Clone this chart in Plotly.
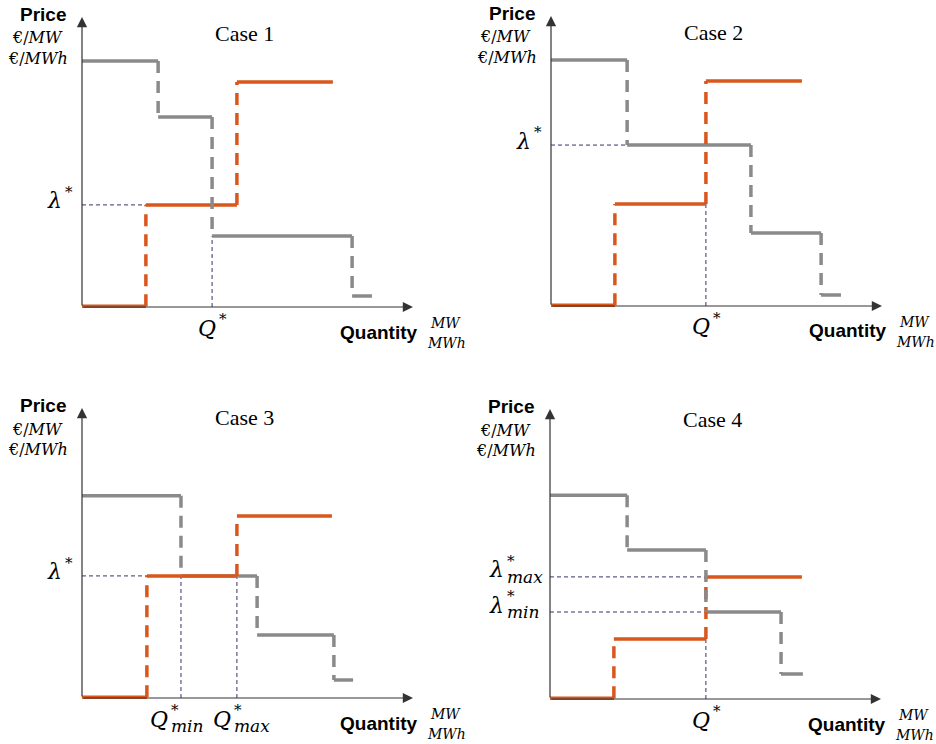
import plotly.graph_objects as go

# ---- data: stepwise offer (sell) and bid (buy) curves for four clearing cases ----
case_titles = ["Case 1", "Case 2", "Case 3", "Case 4"]

# sell curve: block break points (quantity) and block prices
sell_q = [
    [0, 19.3, 46.8, 75.8],
    [0, 19.3, 46.8, 75.8],
    [0, 19.6, 46.8, 75.5],
    [0, 19.3, 47.1, 76.1],
]
sell_p = [
    [0.3, 35.2, 77.6],
    [0.3, 35.2, 77.6],
    [0.3, 42.1, 62.8],
    [0.3, 20.7, 42.1],
]

# buy curve: block break points (quantity) and block prices
buy_q = [
    [0, 23.0, 39.3, 81.6, 87.6],
    [0, 23.0, 60.4, 81.6, 87.6],
    [0, 29.9, 52.9, 76.1, 81.9],
    [0, 23.3, 47.1, 69.8, 76.4],
]
buy_p = [
    [84.8, 65.5, 24.5, 3.8],
    [84.8, 55.5, 25.2, 3.8],
    [69.7, 42.1, 21.7, 6.2],
    [70.3, 51.4, 30.0, 8.6],
]

# clearing prices with the quantity where each guide line stops
clear_price = [[35.2], [55.5], [42.1], [42.1, 30.0]]
clear_price_end = [[19.3], [23.0], [19.6], [47.1, 47.1]]
clear_price_sub = [[""], [""], [""], ["max", "min"]]

# clearing quantities with the price where each guide line stops
clear_qty = [[39.3], [46.8], [29.9, 46.8], [47.1]]
clear_qty_end = [[24.5], [35.2], [42.1, 42.1], [20.7]]
clear_qty_sub = [[""], [""], ["min", "max"], [""]]

# ---- layout constants ----
W, H = 936, 744
ORIGINS = [(82, 307), (551, 306), (82, 698), (550, 699)]  # axis origin per panel (px)
QX, PY = 3.31, 2.9  # pixels per data unit
X_RANGE = [-6, 106]
Y_RANGE = [-6, 104]
TITLE_DY = [-273, -273, -280, -280]
QLABEL_DX = {(2, 0): -11, (2, 1): -4}  # right edge of "Q" relative to its guide

ORANGE = "#D9561D"
GREY = "#8A8A8A"
GUIDE = "#34346A"
AXIS = "#333333"
MATH_FONT = "DejaVu Serif"
TEXT_FONT = "Liberation Serif"
BOLD_FONT = "Liberation Sans"

fig = go.Figure()
annotations = []


def px(x, y, text, size, family, xanchor="center", color="#000000"):
    annotations.append(dict(
        x=x / W, y=1 - y / H, xref="paper", yref="paper", text=text,
        showarrow=False, xanchor=xanchor, yanchor="middle",
        font=dict(size=size, family=family, color=color),
    ))


def math_label(x_right, y_mid, base, sub, size=22, star_dy=-9, sub_dy=7):
    px(x_right, y_mid, f"<i>{base}</i>", size, MATH_FONT, xanchor="right")
    px(x_right - 1, y_mid + star_dy, "*", 15, MATH_FONT, xanchor="left")
    if sub:
        px(x_right - 1, y_mid + sub_dy, f"<i>{sub}</i>", 17, MATH_FONT, xanchor="left")


def step_segments(q, p):
    hx, hy, vx, vy = [], [], [], []
    for k in range(len(p)):
        hx += [q[k], q[k + 1], None]
        hy += [p[k], p[k], None]
        if k < len(p) - 1:
            vx += [q[k + 1], q[k + 1], None]
            vy += [p[k], p[k + 1], None]
    return hx, hy, vx, vy


for i, (ox, oy) in enumerate(ORIGINS):
    sfx = "" if i == 0 else str(i + 1)
    xa, ya = "x" + sfx, "y" + sfx

    fig.update_layout(**{
        "xaxis" + sfx: dict(
            domain=[(ox + X_RANGE[0] * QX) / W, (ox + X_RANGE[1] * QX) / W],
            range=X_RANGE, visible=False, anchor=ya, fixedrange=True),
        "yaxis" + sfx: dict(
            domain=[1 - (oy - Y_RANGE[0] * PY) / H, 1 - (oy - Y_RANGE[1] * PY) / H],
            range=Y_RANGE, visible=False, anchor=xa, fixedrange=True),
    })

    # dashed guide lines to the axes
    gx, gy = [], []
    for p, qe in zip(clear_price[i], clear_price_end[i]):
        gx += [0, qe, None]
        gy += [p, p, None]
    for q, pe in zip(clear_qty[i], clear_qty_end[i]):
        gx += [q, q, None]
        gy += [0, pe, None]
    fig.add_trace(go.Scatter(x=gx, y=gy, mode="lines", xaxis=xa, yaxis=ya,
                             line=dict(color=GUIDE, width=1, dash="4px,3px"),
                             showlegend=False, hoverinfo="skip"))

    bhx, bhy, bvx, bvy = step_segments(buy_q[i], buy_p[i])
    shx, shy, svx, svy = step_segments(sell_q[i], sell_p[i])

    fig.add_trace(go.Scatter(x=bhx, y=bhy, mode="lines", xaxis=xa, yaxis=ya,
                             line=dict(color=GREY, width=3.5),
                             showlegend=False, hoverinfo="skip"))
    fig.add_trace(go.Scatter(x=shx, y=shy, mode="lines", xaxis=xa, yaxis=ya,
                             line=dict(color=ORANGE, width=3.5),
                             showlegend=False, hoverinfo="skip"))
    fig.add_trace(go.Scatter(x=svx, y=svy, mode="lines", xaxis=xa, yaxis=ya,
                             line=dict(color=ORANGE, width=3.5, dash="12px,8px"),
                             showlegend=False, hoverinfo="skip"))
    fig.add_trace(go.Scatter(x=bvx, y=bvy, mode="lines", xaxis=xa, yaxis=ya,
                             line=dict(color=GREY, width=3.5, dash="12px,8px"),
                             showlegend=False, hoverinfo="skip"))

    # axes drawn as arrows
    for tip in [(100, 0), (0, 100)]:
        annotations.append(dict(
            x=tip[0], y=tip[1], ax=0, ay=0, xref=xa, yref=ya, axref=xa, ayref=ya,
            text="", showarrow=True, arrowhead=2, arrowsize=1.7, arrowwidth=1.2,
            arrowcolor=AXIS, standoff=0,
        ))

    # axis titles and units
    px(ox - 39, oy - 292, "<b>Price</b>", 19, BOLD_FONT)
    px(ox - 45, oy - 269, "€/<i>MW</i>", 16, MATH_FONT)
    px(ox - 44, oy - 249, "€/<i>MWh</i>", 16, MATH_FONT)
    px(ox + 296, oy + 25, "<b>Quantity</b>", 19, BOLD_FONT)
    px(ox + 363, oy + 16, "<i>MW</i>", 14, MATH_FONT)
    px(ox + 364, oy + 36, "<i>MWh</i>", 14, MATH_FONT)
    px(ox + 162, oy + TITLE_DY[i], case_titles[i], 22, TEXT_FONT)

    # clearing price labels on the price axis
    for p, sub in zip(clear_price[i], clear_price_sub[i]):
        level = oy - p * PY
        if sub:
            math_label(ox - 44, level - 7, "λ", sub)
        else:
            math_label(ox - 18, level - 4, "λ", sub)

    # clearing quantity labels under the quantity axis
    for k, (q, sub) in enumerate(zip(clear_qty[i], clear_qty_sub[i])):
        x_line = ox + q * QX
        x_right = x_line + QLABEL_DX.get((i, k), 6)
        math_label(x_right, oy + 21, "Q", sub)

fig.update_layout(
    width=W, height=H,
    margin=dict(l=0, r=0, t=0, b=0),
    paper_bgcolor="white", plot_bgcolor="white",
    annotations=annotations,
    showlegend=False,
)

fig.write_html("out.html")
